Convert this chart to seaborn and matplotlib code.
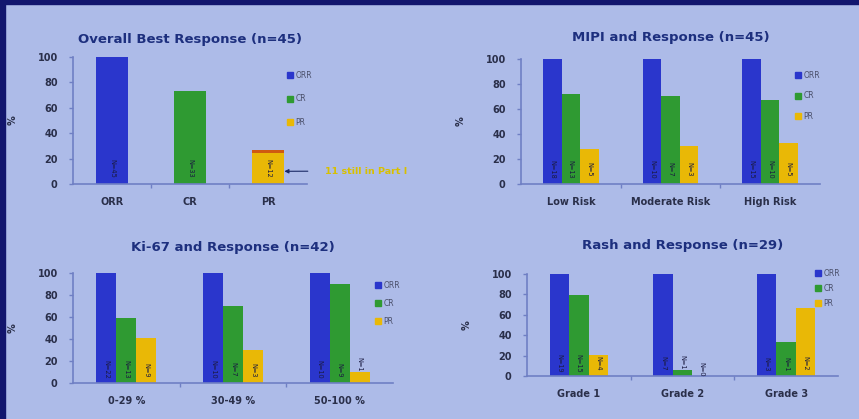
import matplotlib
matplotlib.use("Agg")
import matplotlib.pyplot as plt
from matplotlib.patches import Rectangle
from matplotlib.lines import Line2D
import seaborn as sns
import pandas as pd

# ---- data -------------------------------------------------------------
responses = ["ORR", "CR", "PR"]

overall_values = [100.0, 73.3, 26.7]
overall_counts = ["N=45", "N=33", "N=12"]
pr_still_in_part1 = 24.4          # lower (yellow) share of the PR bar

mipi_groups = ["Low Risk", "Moderate Risk", "High Risk"]
mipi_orr = [100, 100, 100]
mipi_cr = [72, 70, 67]
mipi_pr = [28, 30, 33]
mipi_counts = [["N=18", "N=13", "N=5"], ["N=10", "N=7", "N=3"], ["N=15", "N=10", "N=5"]]

ki67_groups = ["0-29 %", "30-49 %", "50-100 %"]
ki67_orr = [100, 100, 100]
ki67_cr = [59, 70, 90]
ki67_pr = [41, 30, 10]
ki67_counts = [["N=22", "N=13", "N=9"], ["N=10", "N=7", "N=3"], ["N=10", "N=9", "N=1"]]

rash_groups = ["Grade 1", "Grade 2", "Grade 3"]
rash_orr = [100, 100, 100]
rash_cr = [79, 6, 33]
rash_pr = [21, 0, 67]
rash_counts = [["N=19", "N=15", "N=4"], ["N=7", "N=1", "N=0"], ["N=3", "N=1", "N=2"]]

# ---- style ------------------------------------------------------------
BG = "#adbbe8"
NAVY = "#1d2f7e"
SPINE = "#6f7fc4"
TICK = "#2a2f4a"
palette = {"ORR": "#2a36cc", "CR": "#2f9a32", "PR": "#e9b806"}

sns.set_theme(style="white")
plt.rcParams["font.family"] = ["DejaVu Sans"]

fig = plt.figure(figsize=(8.59, 4.19), dpi=100, facecolor=BG)

# slide edge
fig.patches.append(Rectangle((0, 1 - 4 / 419), 1, 4 / 419, transform=fig.transFigure,
                             color="#12166e", zorder=0))
fig.patches.append(Rectangle((0, 0), 5 / 859, 1, transform=fig.transFigure,
                             color="#12166e", zorder=0))


def style_axes(ax):
    ax.set_facecolor("none")
    for s in ["top", "right"]:
        ax.spines[s].set_visible(False)
    for s in ["left", "bottom"]:
        ax.spines[s].set_color(SPINE)
        ax.spines[s].set_linewidth(1.2)
    ax.set_ylim(0, 100)
    ax.set_xlim(-0.5, 2.5)
    ax.set_yticks([0, 20, 40, 60, 80, 100])
    ax.tick_params(axis="y", length=3, color=SPINE, width=1, labelsize=7,
                   labelcolor=TICK, pad=8, left=True)
    for t in ax.get_yticklabels():
        t.set_fontweight("bold")
    ax.set_xticks([0.5, 1.5], minor=True)
    ax.tick_params(axis="x", which="minor", length=3, color=SPINE, width=1, bottom=True)
    ax.tick_params(axis="x", which="major", length=0, labelsize=7, labelcolor=TICK, pad=9)
    for t in ax.get_xticklabels():
        t.set_fontweight("bold")
    ax.set_xlabel("")
    ax.set_ylabel("%", fontsize=7, color=TICK, labelpad=14, fontweight="bold")


def add_legend(ax, x_px, y_px, spacing):
    handles = [Line2D([], [], marker="s", linestyle="none", markersize=4,
                      markerfacecolor=palette[r], markeredgecolor=palette[r]) for r in responses]
    ax.legend(handles, responses, loc="upper left",
              bbox_to_anchor=(x_px / 859, 1 - y_px / 419), bbox_transform=fig.transFigure,
              frameon=False, fontsize=5.5, labelcolor="#4a4f6a", handlelength=0.8,
              handletextpad=0.3, labelspacing=spacing, borderpad=0)


def count_labels(ax, bars, labels):
    for bar, lab in zip(bars, labels):
        h = bar.get_height()
        x = bar.get_x() + bar.get_width() / 2
        y = 12 if h >= 18 else h + 7
        ax.text(x, y, lab, rotation=270, ha="center", va="center", fontsize=4.8,
                color="#1a1a40")


def grouped(ax, groups, orr, cr, pr, counts, title, legend_pos, spacing, pad):
    df = pd.DataFrame({
        "group": groups * 3,
        "response": ["ORR"] * 3 + ["CR"] * 3 + ["PR"] * 3,
        "value": list(orr) + list(cr) + list(pr),
    })
    sns.barplot(data=df, x="group", y="value", hue="response", hue_order=responses,
                order=groups, palette=palette, width=0.56, saturation=1, ax=ax,
                errorbar=None, legend=False, linewidth=0)
    style_axes(ax)
    for ri, cont in enumerate(ax.containers):
        count_labels(ax, cont, [counts[g][ri] for g in range(3)])
    ax.set_title(title, fontsize=9.5, fontweight="bold", color=NAVY, pad=pad)
    add_legend(ax, *legend_pos, spacing)


# ---- Overall best response --------------------------------------------
ax1 = fig.add_axes([73 / 859, 1 - 184 / 419, 234 / 859, 127 / 419])
df1 = pd.DataFrame({"response": responses, "value": overall_values})
sns.barplot(data=df1, x="response", y="value", hue="response", order=responses,
            hue_order=responses, palette=palette, width=0.42, saturation=1, ax=ax1,
            errorbar=None, legend=False, linewidth=0, dodge=False)
# upper part of the PR bar (beyond those still in Part I)
pr_bar = ax1.containers[2][0]
pr_bar.set_height(pr_still_in_part1)
ax1.bar(2, overall_values[2] - pr_still_in_part1, bottom=pr_still_in_part1,
        width=0.42, color="#cf5a10", linewidth=0)
style_axes(ax1)
for ci, cont in enumerate(ax1.containers[:3]):
    count_labels(ax1, cont, [overall_counts[ci]])
ax1.set_title("Overall Best Response (n=45)", fontsize=9.5, fontweight="bold",
              color=NAVY, pad=10)
add_legend(ax1, 283, 67, 1.9)
ax1.annotate("11 still in Part I", xy=(2.21, 10), xycoords="data",
             xytext=(325 / 859, 1 - 171 / 419), textcoords="figure fraction",
             va="center", ha="left", fontsize=6.8, fontweight="bold", color="#d8c000",
             annotation_clip=False,
             arrowprops=dict(arrowstyle="-|>", color="#1b2a66", lw=0.8, shrinkA=10,
                             shrinkB=0, mutation_scale=6))

# ---- MIPI --------------------------------------------------------------
ax2 = fig.add_axes([521 / 859, 1 - 184 / 419, 299 / 859, 125 / 419])
grouped(ax2, mipi_groups, mipi_orr, mipi_cr, mipi_pr, mipi_counts,
        "MIPI and Response (n=45)", (791, 67), 1.5, 13)

# ---- Ki-67 -------------------------------------------------------------
ax3 = fig.add_axes([73 / 859, 1 - 383 / 419, 320 / 859, 110 / 419])
grouped(ax3, ki67_groups, ki67_orr, ki67_cr, ki67_pr, ki67_counts,
        "Ki-67 and Response (n=42)", (371, 277), 1.2, 16)

# ---- Rash --------------------------------------------------------------
ax4 = fig.add_axes([527 / 859, 1 - 376 / 419, 311 / 859, 102 / 419])
grouped(ax4, rash_groups, rash_orr, rash_cr, rash_pr, rash_counts,
        "Rash and Response (n=29)", (811, 265), 0.8, 18)

fig.savefig("out.png", dpi=100, facecolor=BG)
